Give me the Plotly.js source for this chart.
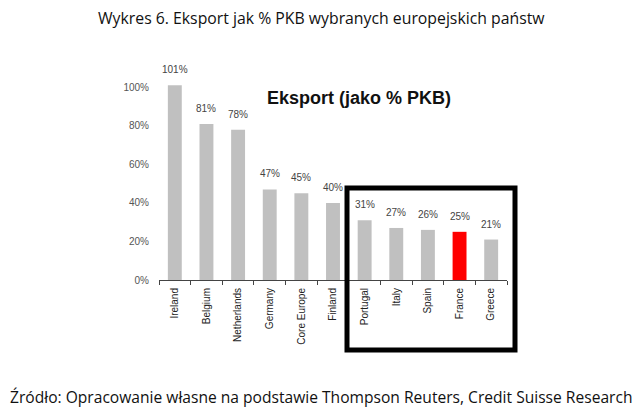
<!DOCTYPE html>
<html>
<head>
<meta charset="utf-8">
<script src="https://cdn.plot.ly/plotly-3.0.1.min.js"></script>
<style>html,body{margin:0;padding:0;background:#fff;}#chart{width:640px;height:419px;}</style>
</head>
<body>
<div id="chart"></div>
<script>
const countries = ["Ireland","Belgium","Netherlands","Germany","Core Europe","Finland","Portugal","Italy","Spain","France","Greece"];
const exportPct = [101,81,78,47,45,40,31,27,26,25,21];
const yTickVals = [0,20,40,60,80,100];
const yTickText = ["0%","20%","40%","60%","80%","100%"];
const highlight = "France";

const colors = countries.map(c => c === highlight ? "#ff0000" : "#c0c0c0");

const trace = {
  type: "bar",
  x: countries,
  y: exportPct,
  marker: {color: colors},
  cliponaxis: false,
  hoverinfo: "none"
};

const valueLabels = countries.map((c, i) => ({
  text: exportPct[i] + "%", xref: "x", yref: "y", x: c, y: exportPct[i],
  showarrow: false, xanchor: "center", yanchor: "bottom", yshift: 8,
  font: {family: "Liberation Sans, Arial", size: 10, color: "#444"}
}));

const layout = {
  width: 640, height: 419,
  margin: {l: 159, r: 133, t: 68, b: 139},
  paper_bgcolor: "#ffffff",
  plot_bgcolor: "#ffffff",
  showlegend: false,
  bargap: 0.56,
  xaxis: {
    type: "category",
    showline: true, linecolor: "#444", linewidth: 1,
    ticks: "outside", tickson: "boundaries", ticklen: 4, tickcolor: "#444",
    tickangle: -90, ticklabelstandoff: 3,
    tickfont: {family: "Liberation Sans, Arial", size: 10, color: "#222"},
    showgrid: false, zeroline: false
  },
  yaxis: {
    range: [0, 110],
    tickvals: yTickVals, ticktext: yTickText,
    showline: false, showgrid: false, zeroline: false,
    ticks: "", ticklabelstandoff: 9,
    tickfont: {family: "Liberation Sans, Arial", size: 10, color: "#555"}
  },
  shapes: [{
    type: "rect", xref: "paper", yref: "paper",
    x0: (347-159)/348, x1: (515-159)/348, y0: (280-350)/212, y1: (280-188)/212,
    line: {color: "#000", width: 5}, fillcolor: "rgba(0,0,0,0)"
  }],
  annotations: valueLabels.concat([
    {text: "Eksport (jako % PKB)", xref: "paper", yref: "paper", x: (359-159)/348, y: (280-98)/212,
     showarrow: false, xanchor: "center", yanchor: "middle",
     font: {family: "Liberation Sans, Arial", size: 18, color: "#111", weight: "bold"}},
    {text: "Wykres 6. Eksport jak % PKB wybranych europejskich państw", xref: "paper", yref: "paper",
     x: (321-159)/348, y: (280-18)/212, showarrow: false, xanchor: "center", yanchor: "middle",
     font: {family: "Open Sans", size: 15.8, color: "#111"}},
    {text: "Źródło: Opracowanie własne na podstawie Thompson Reuters, Credit Suisse Research", xref: "paper", yref: "paper",
     x: (321-159)/348, y: (280-397)/212, showarrow: false, xanchor: "center", yanchor: "middle",
     font: {family: "Open Sans", size: 15.6, color: "#111"}}
  ])
};

Plotly.newPlot("chart", [trace], layout, {staticPlot: true, displayModeBar: false});
</script>
</body>
</html>
